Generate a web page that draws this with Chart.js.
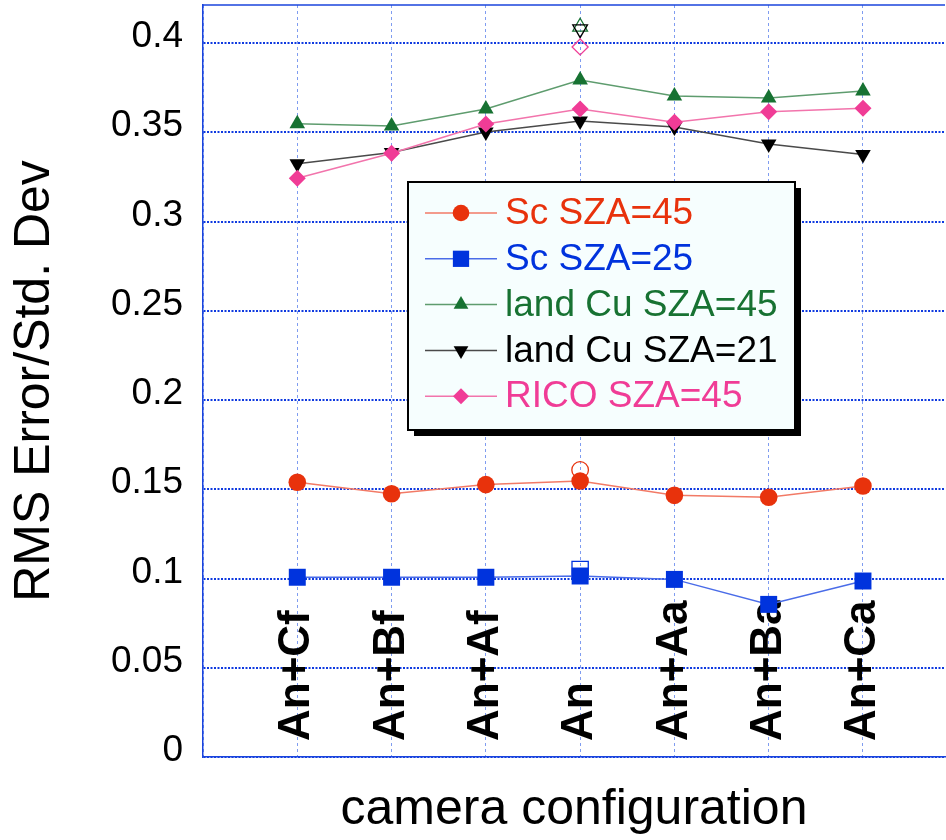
<!DOCTYPE html>
<html>
<head>
<meta charset="utf-8">
<script src="https://cdn.jsdelivr.net/npm/chart.js@4.4.0/dist/chart.umd.min.js"></script>
<style>
  html, body { margin: 0; padding: 0; background: #fff; }
  #wrap { width: 946px; height: 840px; }
</style>
</head>
<body>
<div id="wrap"><canvas id="myChart" width="946" height="840"></canvas></div>
<script>
// camera configurations along the x axis
const categories = ['An+Cf', 'An+Bf', 'An+Af', 'An', 'An+Aa', 'An+Ba', 'An+Ca'];

// RMS error / std. dev per configuration
const scSza45 = [0.1539, 0.1475, 0.1526, 0.1546, 0.1466, 0.1455, 0.1518];
const scSza25 = [0.1007, 0.1007, 0.1007, 0.1014, 0.0995, 0.0855, 0.0986];
const landCuSza45 = [0.3548, 0.3535, 0.3630, 0.3793, 0.3703, 0.3692, 0.3731];
const landCuSza21 = [0.3324, 0.3387, 0.3501, 0.3563, 0.3529, 0.3434, 0.3375];
const ricoSza45 = [0.3242, 0.3382, 0.3546, 0.3630, 0.3556, 0.3615, 0.3634];

// open markers plotted only at the "An" configuration
const hollowCategory = 'An';
const hollowValues = [0.1608, 0.1050, 0.4091, 0.4078, 0.3978];

const yTicks = { min: 0, max: 0.4213, step: 0.05 };

const FONT = '"Liberation Sans", Arial, Helvetica, sans-serif';
const GRID_BLUE = '#1a44dd';

const xPos = categories.map((_, i) => i + 1);
const toPoints = values => values.map((y, i) => ({ x: xPos[i], y }));
const hollowX = categories.indexOf(hollowCategory) + 1;

const series = [
  { label: 'Sc SZA=45', values: scSza45, color: '#e8320c', line: '#f27a66', style: 'circle', radius: 8.8, rotation: 0 },
  { label: 'Sc SZA=25', values: scSza25, color: '#0033dd', line: '#4a6ce8', style: 'rect', radius: 12, rotation: 0 },
  { label: 'land Cu SZA=45', values: landCuSza45, color: '#177232', line: '#5e9c6e', style: 'triangle', radius: 9, rotation: 0 },
  { label: 'land Cu SZA=21', values: landCuSza21, color: '#000000', line: '#4a4a4a', style: 'triangle', radius: 9, rotation: 180 },
  { label: 'RICO SZA=45', values: ricoSza45, color: '#f03c96', line: '#f274ac', style: 'rectRot', radius: 8.5, rotation: 0 },
];

const datasets = [];
series.forEach((s, k) => {
  datasets.push({
    label: s.label,
    data: toPoints(s.values),
    showLine: true,
    borderColor: s.line,
    borderWidth: 1.5,
    pointStyle: s.style,
    pointRadius: s.radius,
    pointRotation: s.rotation,
    pointBackgroundColor: s.color,
    pointBorderColor: s.color,
    pointBorderWidth: 0,
    order: 10 - k,
  });
  datasets.push({
    label: '',
    data: [{ x: hollowX, y: hollowValues[k] }],
    showLine: false,
    pointStyle: s.style,
    pointRadius: s.radius - 0.5,
    pointRotation: s.rotation,
    pointBackgroundColor: 'rgba(0,0,0,0)',
    pointBorderColor: s.color,
    pointBorderWidth: 1.3,
    order: 20 - k,
  });
});

const noPad = scale => {
  scale.paddingTop = 0;
  scale.paddingBottom = 0;
  scale.paddingLeft = 0;
  scale.paddingRight = 0;
};

const frameAndLabels = {
  id: 'frameAndLabels',
  beforeDatasetsDraw(chart) {
    const { ctx, chartArea } = chart;
    const xs = chart.scales.x;
    ctx.save();
    ctx.strokeStyle = GRID_BLUE;
    ctx.lineWidth = 1.5;
    ctx.beginPath();
    ctx.moveTo(chartArea.left, chartArea.top);
    ctx.lineTo(chartArea.right, chartArea.top);
    ctx.stroke();

    ctx.font = 'bold 44px ' + FONT;
    ctx.fillStyle = '#000';
    ctx.textAlign = 'left';
    ctx.textBaseline = 'middle';
    categories.forEach((c, i) => {
      ctx.save();
      ctx.translate(xs.getPixelForValue(xPos[i]), chartArea.bottom - 16);
      ctx.rotate(-Math.PI / 2);
      ctx.fillText(c, 0, 0);
      ctx.restore();
    });
    ctx.restore();
  },
};

const boxLegend = {
  id: 'boxLegend',
  afterDraw(chart) {
    const { ctx } = chart;
    const box = { left: 408, top: 182, width: 387, height: 248 };
    ctx.save();
    ctx.fillStyle = '#000';
    ctx.fillRect(box.left + 6, box.top + 6, box.width, box.height);
    ctx.fillStyle = '#f6fefe';
    ctx.fillRect(box.left, box.top, box.width, box.height);
    ctx.strokeStyle = '#000';
    ctx.lineWidth = 2;
    ctx.strokeRect(box.left, box.top, box.width, box.height);

    ctx.font = '37px ' + FONT;
    ctx.textAlign = 'left';
    ctx.textBaseline = 'middle';
    series.forEach((s, k) => {
      const y = box.top + 31 + k * 45.8;
      ctx.strokeStyle = s.line;
      ctx.lineWidth = 1.5;
      ctx.beginPath();
      ctx.moveTo(box.left + 17, y);
      ctx.lineTo(box.left + 89, y);
      ctx.stroke();
      ctx.fillStyle = s.color;
      Chart.helpers.drawPoint(ctx, { pointStyle: s.style, radius: s.radius - 0.5, rotation: s.rotation, borderWidth: 0 }, box.left + 53, y);
      ctx.fillStyle = s.color;
      ctx.fillText(s.label, box.left + 97, y + 1);
    });
    ctx.restore();
  },
};

Chart.defaults.font.family = FONT;

new Chart(document.getElementById('myChart').getContext('2d'), {
  type: 'scatter',
  data: { datasets },
  options: {
    responsive: false,
    animation: false,
    events: [],
    layout: { autoPadding: false, padding: { top: 5, right: 1, left: 0, bottom: 0 } },
    plugins: { legend: { display: false }, tooltip: { enabled: false } },
    scales: {
      x: {
        type: 'linear',
        min: 0,
        max: 7.87,
        ticks: { display: false, stepSize: 1, includeBounds: false },
        grid: { color: '#7f9cf0', lineWidth: 1, drawTicks: false },
        border: { display: true, color: GRID_BLUE, width: 1.5, dash: [3, 3] },
        title: {
          display: true,
          text: 'camera configuration',
          color: '#000',
          font: { size: 50, lineHeight: 1.2 },
          padding: { top: 0, bottom: 0 },
        },
        afterFit: scale => { scale.height = 83; noPad(scale); },
      },
      y: {
        min: yTicks.min,
        max: yTicks.max,
        ticks: {
          stepSize: yTicks.step,
          includeBounds: false,
          color: '#000',
          font: { size: 37 },
          padding: 20,
          labelOffset: -6,
          callback: v => String(parseFloat(Number(v).toFixed(2))),
        },
        grid: { color: '#0f3ae0', lineWidth: 2, drawTicks: false },
        border: { display: true, color: GRID_BLUE, width: 1.5, dash: [2, 1.5] },
        title: {
          display: true,
          text: 'RMS Error/Std. Dev',
          color: '#000',
          font: { size: 50, lineHeight: 1.2 },
          padding: { top: 5, bottom: 0 },
        },
        afterFit: scale => { scale.width = 203; noPad(scale); },
      },
    },
  },
  plugins: [frameAndLabels, boxLegend],
});
</script>
</body>
</html>
